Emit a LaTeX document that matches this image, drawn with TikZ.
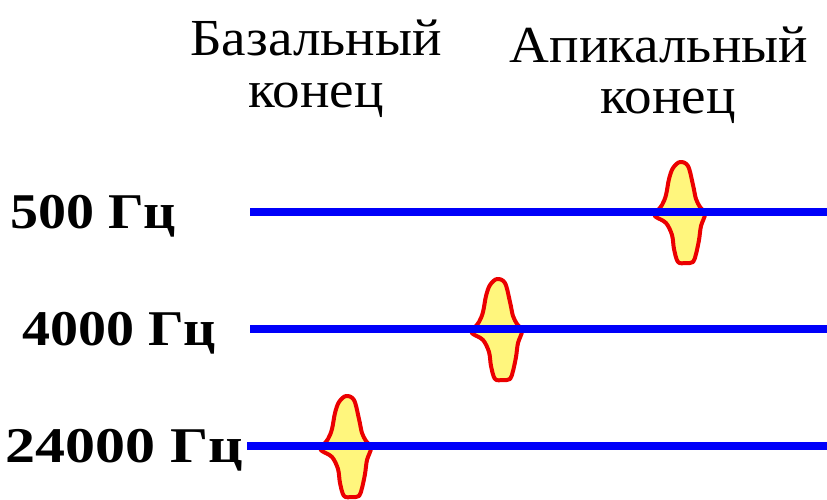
\documentclass[tikz,border=0pt]{standalone}
\usepackage{fontspec}
\setmainfont{Liberation Serif}
\newfontfamily\headfont[FakeStretch=1.06]{Liberation Serif}
\newfontfamily\labfont[FakeStretch=1.12]{Liberation Serif}
\newfontfamily\labwidefont[FakeStretch=1.2]{Liberation Serif}
\definecolor{axisblue}{RGB}{0,0,250}
\definecolor{blobred}{RGB}{235,0,0}
\definecolor{blobfill}{RGB}{255,246,125}
\tikzset{
  headtxt/.style={inner sep=0pt, anchor=base, font=\headfont\fontsize{52}{52}\selectfont},
  labtxt/.style={inner sep=0pt, anchor=base west, font=\labfont\bfseries\fontsize{50}{50}\selectfont},
  axis/.style={draw=axisblue, line width=8pt},
  blob/.pic={
    \draw[draw=blobred, fill=blobfill, line width=4pt, line join=round]
      plot[smooth cycle, tension=0.55] coordinates {
        (0,-50) (8,-46) (13,-27) (16,-13) (20,-5) (25,2) (21,14) (19,28)
        (16,42) (13,50) (6,51) (-2,50) (-6,37) (-8,23) (-14,11) (-24,5)
        (-25,2) (-18,-7) (-14,-17) (-11,-33) (-7,-44)};
  }
}
\begin{document}
\begin{tikzpicture}[x=1pt,y=-1pt]
\useasboundingbox (0,0) rectangle (827,499);
% headers
\node[headtxt] (h1a) at (316,55) {Базальный};
\node[headtxt] (h1b) at (316,107) {конец};
\node[headtxt] (h2a) at (659,62) {Апикальный};
\node[headtxt] (h2b) at (668,113) {конец};
% labels
\node[labtxt] (l1) at (10,228) {500 Гц};
\node[labtxt] (l2) at (22,345) {4000 Гц};
\node[labtxt, font=\labwidefont\bfseries\fontsize{50}{50}\selectfont] (l3) at (5,462) {24000 Гц};
% blobs
\pic at (680,212) {blob};
\pic at (497,329) {blob};
\pic at (346,446) {blob};
% axes
\coordinate (s1) at (250,212); \coordinate (e1) at (827,212);
\coordinate (s2) at (250,329); \coordinate (e2) at (827,329);
\coordinate (s3) at (247,446); \coordinate (e3) at (827,446);
\draw[axis] (s1) -- (e1);
\draw[axis] (s2) -- (e2);
\draw[axis] (s3) -- (e3);
\end{tikzpicture}
\end{document}
